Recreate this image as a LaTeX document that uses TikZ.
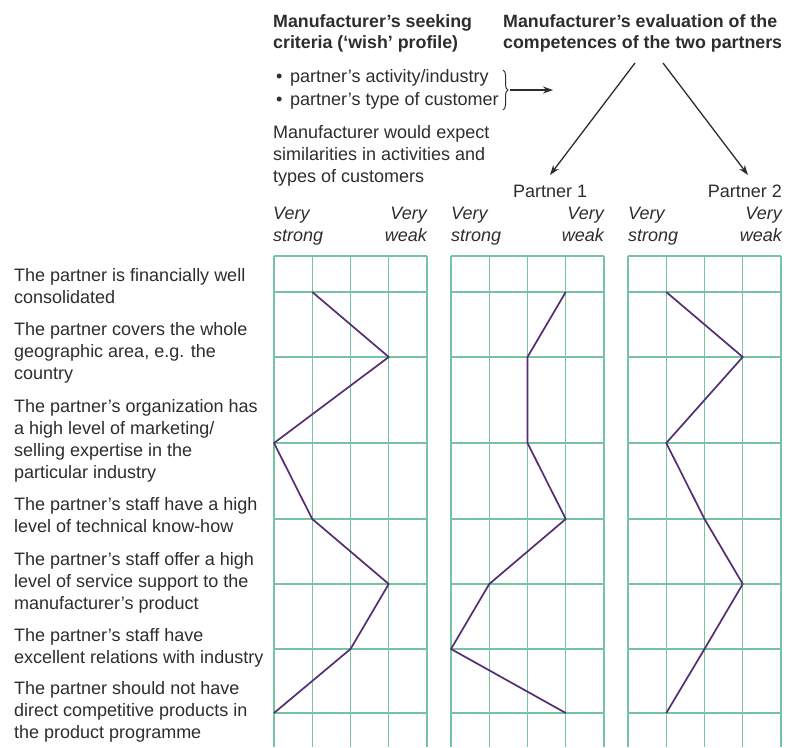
\documentclass[tikz,border=0pt]{standalone}
\usepackage{fontspec}
\setmainfont{Liberation Sans}
\usetikzlibrary{arrows.meta,decorations.pathreplacing}
\definecolor{gridc}{RGB}{118,194,162}
\definecolor{prof}{RGB}{85,45,115}
\definecolor{txt}{RGB}{45,45,45}
\tikzset{
  lbl/.style={font=\fontsize{18}{22}\selectfont, text=txt, inner sep=0pt, anchor=base west},
  lblr/.style={lbl, anchor=base east},
  hdr/.style={lbl, font=\fontsize{17.8}{22}\selectfont\bfseries},
  itl/.style={lbl, font=\fontsize{18}{22}\selectfont\itshape},
  itlr/.style={itl, anchor=base east},
  gridline/.style={draw=gridc, line width=1.1pt},
  profile/.style={draw=prof, line width=1.7pt, line join=round},
  arr/.style={draw=txt, line width=1.3pt, -{Stealth[length=10pt,width=7pt]}}
}
\begin{document}
\begin{tikzpicture}[x=1pt,y=-1pt]
\useasboundingbox (0,0) rectangle (786,747);

% headers
\node[hdr] (h1a) at (273,27) {Manufacturer's seeking};
\node[hdr] (h1b) at (273,48) {criteria (`wish' profile)};
\node[hdr] (h2a) at (503,27) {Manufacturer's evaluation of the};
\node[hdr] (h2b) at (503,48) {competences of the two partners};

% bullets
\node[lbl] (b1) at (276,82) {\textbullet};
\node[lbl] (b1t) at (290,82) {partner's activity/industry};
\node[lbl] (b2) at (276,105) {\textbullet};
\node[lbl] (b2t) at (290,105) {partner's type of customer};
\draw[draw=txt, line width=1pt, decorate, decoration={brace, amplitude=5pt}] (503,70) -- (503,110);
\coordinate (brtip) at (510,90);
\coordinate (brend) at (553,90);
\draw[arr] (brtip) -- (brend);

\node[lbl] (e1) at (273,138) {Manufacturer would expect};
\node[lbl] (e2) at (273,160) {similarities in activities and};
\node[lbl] (e3) at (273,182) {types of customers};

% arrows to partners
\coordinate (a1s) at (635,63);
\coordinate (a1e) at (550,175);
\coordinate (a2s) at (663,63);
\coordinate (a2e) at (748,175);
\draw[arr] (a1s) -- (a1e);
\draw[arr] (a2s) -- (a2e);
\node[lbl] (p1) at (513,197) {Partner 1};
\node[lblr] (p2) at (782,197) {Partner 2};

% scale labels
\node[itl] (vs1a) at (273,219) {Very};
\node[itl] (vs1b) at (273,241) {strong};
\node[itlr] (vw1a) at (427,219) {Very};
\node[itlr] (vw1b) at (427,241) {weak};
\node[itl] (vs2a) at (451,219) {Very};
\node[itl] (vs2b) at (451,241) {strong};
\node[itlr] (vw2a) at (604,219) {Very};
\node[itlr] (vw2b) at (604,241) {weak};
\node[itl] (vs3a) at (628,219) {Very};
\node[itl] (vs3b) at (628,241) {strong};
\node[itlr] (vw3a) at (782,219) {Very};
\node[itlr] (vw3b) at (782,241) {weak};

% grids
\foreach \gx in {274,451,628} {
  \foreach \i in {0,...,4} \draw[gridline] (\gx+\i*38.25,256) -- (\gx+\i*38.25,747);
  \foreach \gy in {256,292,357,443,519,584,649,713} \draw[gridline] (\gx,\gy) -- (\gx+153,\gy);
}

% profiles
\draw[profile] (312.25,292) -- (388.75,357) -- (274,443) -- (312.25,519) -- (388.75,584) -- (350.5,649) -- (274,713);
\draw[profile] (565.75,292) -- (527.5,357) -- (527.5,443) -- (565.75,519) -- (489.25,584) -- (451,649) -- (565.75,713);
\draw[profile] (666.25,292) -- (742.75,357) -- (666.25,443) -- (704.5,519) -- (742.75,584) -- (704.5,649) -- (666.25,713);

% criteria labels
\node[lbl] (c1a) at (14,281) {The partner is financially well};
\node[lbl] (c1b) at (14,303) {consolidated};
\node[lbl] (c2a) at (14,335) {The partner covers the whole};
\node[lbl] (c2b) at (14,357) {geographic area, e.g. the};
\node[lbl] (c2c) at (14,379) {country};
\node[lbl] (c3a) at (14,412) {The partner's organization has};
\node[lbl] (c3b) at (14,434) {a high level of marketing/};
\node[lbl] (c3c) at (14,456) {selling expertise in the};
\node[lbl] (c3d) at (14,478) {particular industry};
\node[lbl] (c4a) at (14,510) {The partner's staff have a high};
\node[lbl] (c4b) at (14,532) {level of technical know-how};
\node[lbl] (c5a) at (14,565) {The partner's staff offer a high};
\node[lbl] (c5b) at (14,587) {level of service support to the};
\node[lbl] (c5c) at (14,609) {manufacturer's product};
\node[lbl] (c6a) at (14,641) {The partner's staff have};
\node[lbl] (c6b) at (14,663) {excellent relations with industry};
\node[lbl] (c7a) at (14,694) {The partner should not have};
\node[lbl] (c7b) at (14,716) {direct competitive products in};
\node[lbl] (c7c) at (14,738) {the product programme};
\end{tikzpicture}
\end{document}
